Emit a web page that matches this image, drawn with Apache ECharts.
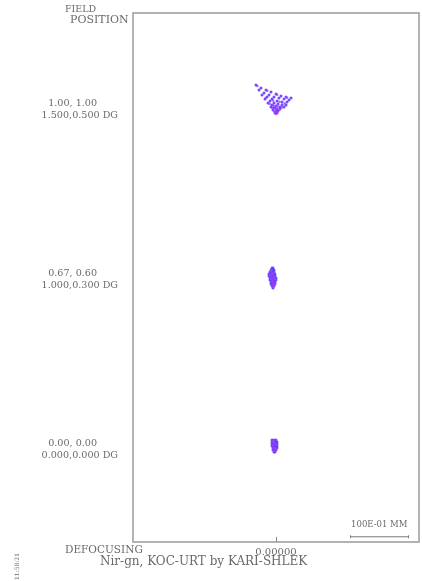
<!DOCTYPE html>
<html><head><meta charset="utf-8">
<script src="https://cdn.jsdelivr.net/npm/echarts@6/dist/echarts.min.js"></script>
<style>html,body{margin:0;padding:0;background:#fff}#c{width:422px;height:581px}</style>
</head><body><div id="c"></div>
<script>
// Field positions (vertical placement, µm on display axis) and labels
const fieldCenters = [75.0, 45.7, 16.55];
const fieldLine1 = ['1.00, 1.00', '0.67, 0.60', '0.00, 0.00'];
const fieldLine2 = ['1.500,0.500 DG', '1.000,0.300 DG', '0.000,0.000 DG'];
const defocusLabel = '0.00000';
const scaleBarUm = [12.8, 22.8];   // 10 µm scale bar
const scaleBarY = 0.9;
const scaleBarText = '100E-01 MM';

// Spot diagram offsets (µm) relative to each field's chief ray
const spotTopBlue = [
 [-3.45,3.79],[-2.59,3.28],[-1.72,2.93],[-0.86,2.59],[0,2.24],[0.86,1.90],[1.72,1.72],[2.59,1.55],
 [-2.93,2.93],[-2.07,2.41],[-1.21,2.07],[-0.34,1.72],[0.52,1.55],[1.38,1.38],[2.24,1.21],
 [-2.41,2.07],[-1.55,1.72],[-0.69,1.38],[0.17,1.03],[1.03,0.86],[1.90,0.86],
 [-1.90,1.38],[-1.03,1.03],[-0.34,0.69],[0.34,0.52],[1.03,0.34],[1.72,0.34],
 [-1.38,0.69],[-0.69,0.34],[0,0.17],[0.69,0],[1.38,0],
 [-0.86,0],[-0.34,-0.17],[0.17,-0.34],[0.69,-0.34],
 [-0.52,-0.52],[0,-0.69],[0.34,-0.69],
 [-0.17,-1.03],[0.17,-1.03]
];
const spotTopViolet = [
 [-3.2,3.6],[-1.5,2.8],[0.2,2.1],[1.9,1.6],
 [-1.8,1.5],[-0.5,1.1],[0.6,0.9],[1.5,0.6],
 [-1.1,0.5],[-0.4,0.2],[0.3,0.1],[1.0,-0.1],
 [-0.6,-0.2],[0,-0.3],[0.5,-0.5],[-0.3,-0.8],[0.2,-0.9],[0,-1.2]
];
const spotMidBlue = [
 [-0.69,1.55],[-0.52,1.55],
 [-0.86,1.21],[-0.52,1.21],[-0.34,1.21],
 [-1.03,0.86],[-0.69,0.86],[-0.34,0.86],
 [-1.21,0.52],[-0.86,0.52],[-0.52,0.52],[-0.17,0.52],
 [-1.21,0.17],[-0.86,0.17],[-0.52,0.17],[-0.17,0.17],
 [-1.03,-0.17],[-0.69,-0.17],[-0.34,-0.17],[0,-0.17],
 [-1.03,-0.52],[-0.69,-0.52],[-0.34,-0.52],[0,-0.52],
 [-0.86,-0.86],[-0.52,-0.86],[-0.17,-0.86],
 [-0.86,-1.21],[-0.52,-1.21],[-0.17,-1.21],
 [-0.69,-1.55],[-0.34,-1.55],
 [-0.52,-1.90]
];
const spotMidViolet = [
 [-0.8,1.0],[-0.6,0.6],[-1.0,0.3],[-0.4,0.0],[-0.8,-0.3],[-0.2,-0.4],[-0.6,-0.8],[-0.4,-1.3],[-0.5,-1.7]
];
const spotBotBlue = [
 [-0.69,1.03],[-0.34,1.03],[0,1.03],
 [-0.69,0.69],[-0.34,0.69],[0,0.69],[0.17,0.69],
 [-0.69,0.34],[-0.34,0.34],[0,0.34],[0.17,0.34],
 [-0.69,0],[-0.34,0],[0,0],[0.17,0],
 [-0.52,-0.34],[-0.17,-0.34],[0.17,-0.34],
 [-0.52,-0.69],[-0.17,-0.69],[0,-0.69],
 [-0.34,-1.03],[-0.17,-1.03]
];
const spotBotViolet = [
 [-0.5,0.8],[-0.2,0.5],[0.1,0.2],[-0.5,0.1],[-0.3,-0.4],[0,-0.5],[-0.3,-0.9]
];

const place = (arr, fc) => arr.map(p => [p[0], fc + p[1]]);
const blue = [].concat(place(spotTopBlue, fieldCenters[0]), place(spotMidBlue, fieldCenters[1]), place(spotBotBlue, fieldCenters[2]));
const violet = [].concat(place(spotTopViolet, fieldCenters[0]), place(spotMidViolet, fieldCenters[1]), place(spotBotViolet, fieldCenters[2]));

const FONT = 'DejaVu Serif';
const TXT = '#6a6a6a';
const chart = echarts.init(document.getElementById('c'), null, {renderer:'canvas'});
chart.setOption({
  animation:false,
  backgroundColor:'#fff',
  grid:{left:133, right:3, top:13, bottom:39, show:true, borderColor:'#9a9a9a', borderWidth:1.5},
  xAxis:{type:'value', min:-24.65, max:24.65,
    axisLine:{show:false}, splitLine:{show:false},
    axisTick:{show:true, inside:true, length:5, customValues:[0], lineStyle:{color:'#8a8a8a'}},
    axisLabel:{show:true, customValues:[0], margin:5, formatter:()=>defocusLabel,
      fontFamily:FONT, fontSize:10, color:TXT}},
  yAxis:{type:'value', min:0, max:91.2,
    axisLine:{show:false}, splitLine:{show:false},
    axisTick:{show:true, length:4, customValues:fieldCenters, lineStyle:{color:'#8a8a8a'}},
    axisLabel:{show:true, customValues:fieldCenters, margin:15, align:'right',
      formatter:(v)=>{let i=fieldCenters.findIndex(f=>Math.abs(f-v)<0.01); if(i<0) return '';
        return '{a|'+fieldLine1[i]+'}\n{b|'+fieldLine2[i]+'}';},
      padding:[6,0,0,0],
      rich:{a:{fontFamily:FONT,fontSize:9.6,color:TXT,lineHeight:12,padding:[0,21,0,0]},
            b:{fontFamily:FONT,fontSize:9.6,color:TXT,lineHeight:12}}}},
  series:[
    {type:'scatter', data:blue, symbolSize:3, itemStyle:{color:'#5a3cff', opacity:0.9}, silent:true},
    {type:'scatter', data:violet, symbolSize:2.5, itemStyle:{color:'#b33cf0', opacity:0.85}, silent:true},
    {type:'line', data:[[scaleBarUm[0],scaleBarY],[scaleBarUm[1],scaleBarY]], symbol:'none',
      lineStyle:{color:'#7a7a7a', width:1}, silent:true,
      markLine:{silent:true, symbol:'none', lineStyle:{color:'#7a7a7a', width:1, type:'solid'}, label:{show:false},
        data:[[{coord:[scaleBarUm[0],scaleBarY-0.25]},{coord:[scaleBarUm[0],scaleBarY+0.25]}],
              [{coord:[scaleBarUm[1],scaleBarY-0.25]},{coord:[scaleBarUm[1],scaleBarY+0.25]}]]},
      markPoint:{silent:true, symbol:'rect', symbolSize:0,
        data:[{coord:[(scaleBarUm[0]+scaleBarUm[1])/2, scaleBarY+2.1], value:scaleBarText}],
        label:{show:true, formatter:scaleBarText, fontFamily:FONT, fontSize:8.5, color:TXT}}}
  ],
  graphic:[
    {type:'text', left:65, top:5, style:{text:'FIELD', font:'9.5px '+FONT, fill:TXT}},
    {type:'text', left:70, top:15, style:{text:'POSITION', font:'11px '+FONT, fill:TXT}},
    {type:'text', left:65, top:545, style:{text:'DEFOCUSING', font:'10.5px '+FONT, fill:TXT}},
    {type:'text', left:100, top:556, style:{text:'Nir-gn, KOC-URT by KARI-SHLEK', font:'12px '+FONT, fill:TXT}},
    {type:'text', x:14, y:580, rotation:Math.PI/2, style:{text:'11:58:21', font:'6px '+FONT, fill:TXT}}
  ]
});
</script></body></html>
